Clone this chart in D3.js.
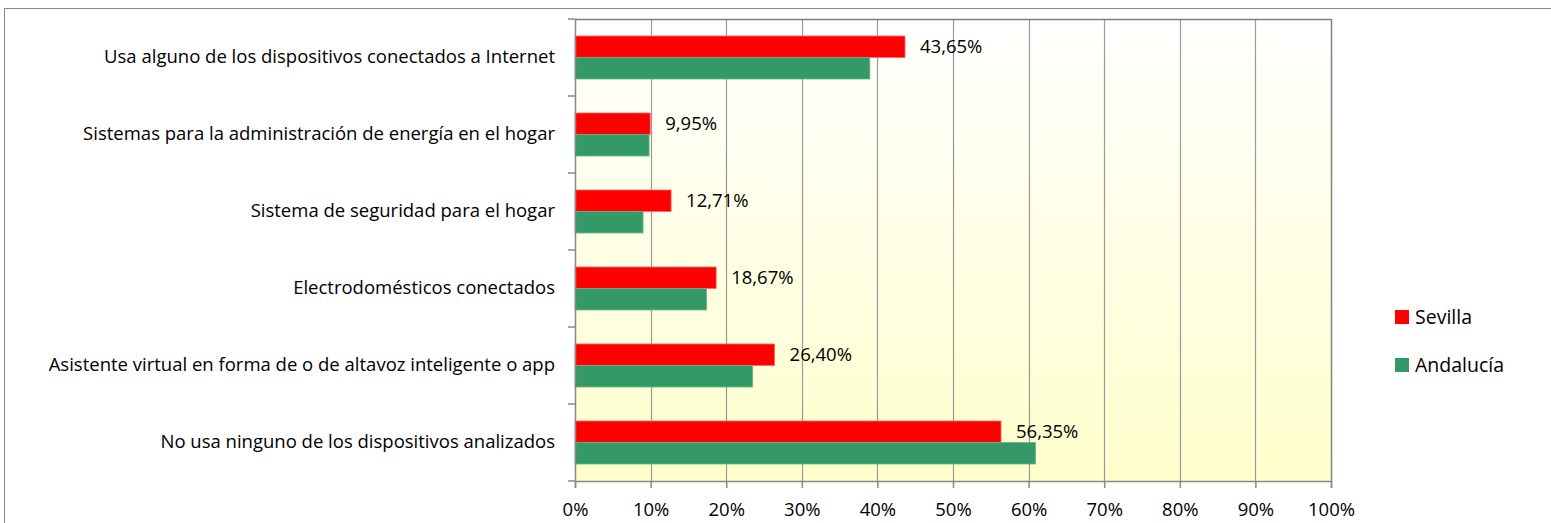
<!DOCTYPE html>
<html>
<head>
<meta charset="utf-8">
<script src="https://cdn.jsdelivr.net/npm/d3@7"></script>
<style>
  body { margin: 0; background: #fff; }
  text { font-family: "Open Sans", "Noto Sans", sans-serif; fill: #000; }
</style>
</head>
<body>
<svg id="chart" width="1551" height="523"></svg>
<script>
// data
const categories = [
  "Usa alguno de los dispositivos conectados a Internet",
  "Sistemas para la administración de energía en el hogar",
  "Sistema de seguridad para el hogar",
  "Electrodomésticos conectados",
  "Asistente virtual en forma de o de altavoz inteligente o app",
  "No usa ninguno de los dispositivos analizados"
];
const seriesNames = ["Sevilla", "Andalucía"];
const sevilla = [43.65, 9.95, 12.71, 18.67, 26.40, 56.35];
const andalucia = [39.0, 9.8, 9.0, 17.4, 23.5, 60.9];
const xTicks = [0, 10, 20, 30, 40, 50, 60, 70, 80, 90, 100];
const colors = ["#ff0000", "#339966"];

const svg = d3.select("#chart");
const plot = { left: 575, right: 1331, top: 19, bottom: 481 };
const fs = "18.5px";

// outer frame
svg.append("rect")
  .attr("x", 4.5).attr("y", 8.5)
  .attr("width", 1560).attr("height", 530)
  .attr("fill", "none").attr("stroke", "#888").attr("stroke-width", 1);

// background gradient
const grad = svg.append("defs").append("linearGradient")
  .attr("id", "bg").attr("x1", 0).attr("y1", 0).attr("x2", 0).attr("y2", 1);
grad.append("stop").attr("offset", "0%").attr("stop-color", "#ffffff");
grad.append("stop").attr("offset", "100%").attr("stop-color", "#ffffcc");

const x = d3.scaleLinear().domain([0, 100]).range([plot.left, plot.right]);
const y = d3.scaleBand().domain(categories).range([plot.top, plot.bottom]);
const inner = d3.scaleBand().domain(seriesNames).range([0, 43]);

svg.append("rect")
  .attr("x", plot.left).attr("y", plot.top)
  .attr("width", plot.right - plot.left).attr("height", plot.bottom - plot.top)
  .attr("fill", "url(#bg)");

// grid lines
svg.append("g").selectAll("line")
  .data(xTicks.slice(1, -1))
  .enter().append("line")
  .attr("x1", d => Math.round(x(d)) + 0.5).attr("x2", d => Math.round(x(d)) + 0.5)
  .attr("y1", plot.top).attr("y2", plot.bottom)
  .attr("stroke", "#999").attr("stroke-width", 1.2);

// plot border top/right
svg.append("path")
  .attr("d", `M${plot.left},${plot.top + 0.5}H${plot.right + 0.5}V${plot.bottom}`)
  .attr("fill", "none").attr("stroke", "#808080").attr("stroke-width", 1.5);

// bars
const rows = categories.map((c, i) => ({ cat: c, vals: [sevilla[i], andalucia[i]] }));
const groups = svg.append("g").selectAll("g")
  .data(rows)
  .enter().append("g")
  .attr("transform", d => `translate(0,${y(d.cat) + y.bandwidth() / 2 - 21.5})`);

groups.selectAll("rect")
  .data(d => d.vals.map((v, j) => ({ name: seriesNames[j], v, j })))
  .enter().append("rect")
  .attr("x", x(0))
  .attr("y", d => inner(d.name))
  .attr("width", d => x(d.v) - x(0))
  .attr("height", inner.bandwidth())
  .attr("fill", d => colors[d.j])
  .attr("stroke", d => d.j === 0 ? "#ff6666" : "#66b38c")
  .attr("stroke-width", 0.8);

// value labels for Sevilla
groups.append("text")
  .attr("x", d => x(d.vals[0]) + 15)
  .attr("y", d => inner("Sevilla") + inner.bandwidth() / 2)
  .attr("dy", "0.35em")
  .style("font-size", fs)
  .text(d => d.vals[0].toFixed(2).replace(".", ",") + "%");

// y axis
const yAxis = svg.append("g")
  .attr("transform", `translate(${plot.left},0)`)
  .call(d3.axisLeft(y).tickSize(0).tickPadding(20));
yAxis.select(".domain").attr("stroke", "#888").attr("stroke-width", 1.5);
yAxis.selectAll("text").style("font-size", fs).attr("font-family", null);
yAxis.selectAll(".bound")
  .data(d3.range(categories.length + 1))
  .enter().append("line")
  .attr("x1", -7).attr("x2", 0)
  .attr("y1", i => plot.top + i * y.step()).attr("y2", i => plot.top + i * y.step())
  .attr("stroke", "#888").attr("stroke-width", 1.5);

// x axis
const xAxis = svg.append("g")
  .attr("transform", `translate(0,${plot.bottom})`)
  .call(d3.axisBottom(x).tickValues(xTicks).tickSize(7).tickPadding(15).tickFormat(d => d + "%"));
xAxis.select(".domain").attr("stroke", "#888").attr("stroke-width", 1.5);
xAxis.selectAll("line").attr("stroke", "#888").attr("stroke-width", 1.5);
xAxis.selectAll("text").style("font-size", fs).attr("font-family", null);

// legend
const legend = svg.append("g").attr("transform", "translate(1395,310)");
const li = legend.selectAll("g").data(seriesNames).enter().append("g")
  .attr("transform", (d, i) => `translate(0,${i * 48})`);
li.append("rect").attr("width", 14).attr("height", 14)
  .attr("fill", (d, i) => colors[i]);
li.append("text").attr("x", 20).attr("y", 7).attr("dy", "0.35em")
  .style("font-size", "19.5px").text(d => d);
</script>
</body>
</html>
